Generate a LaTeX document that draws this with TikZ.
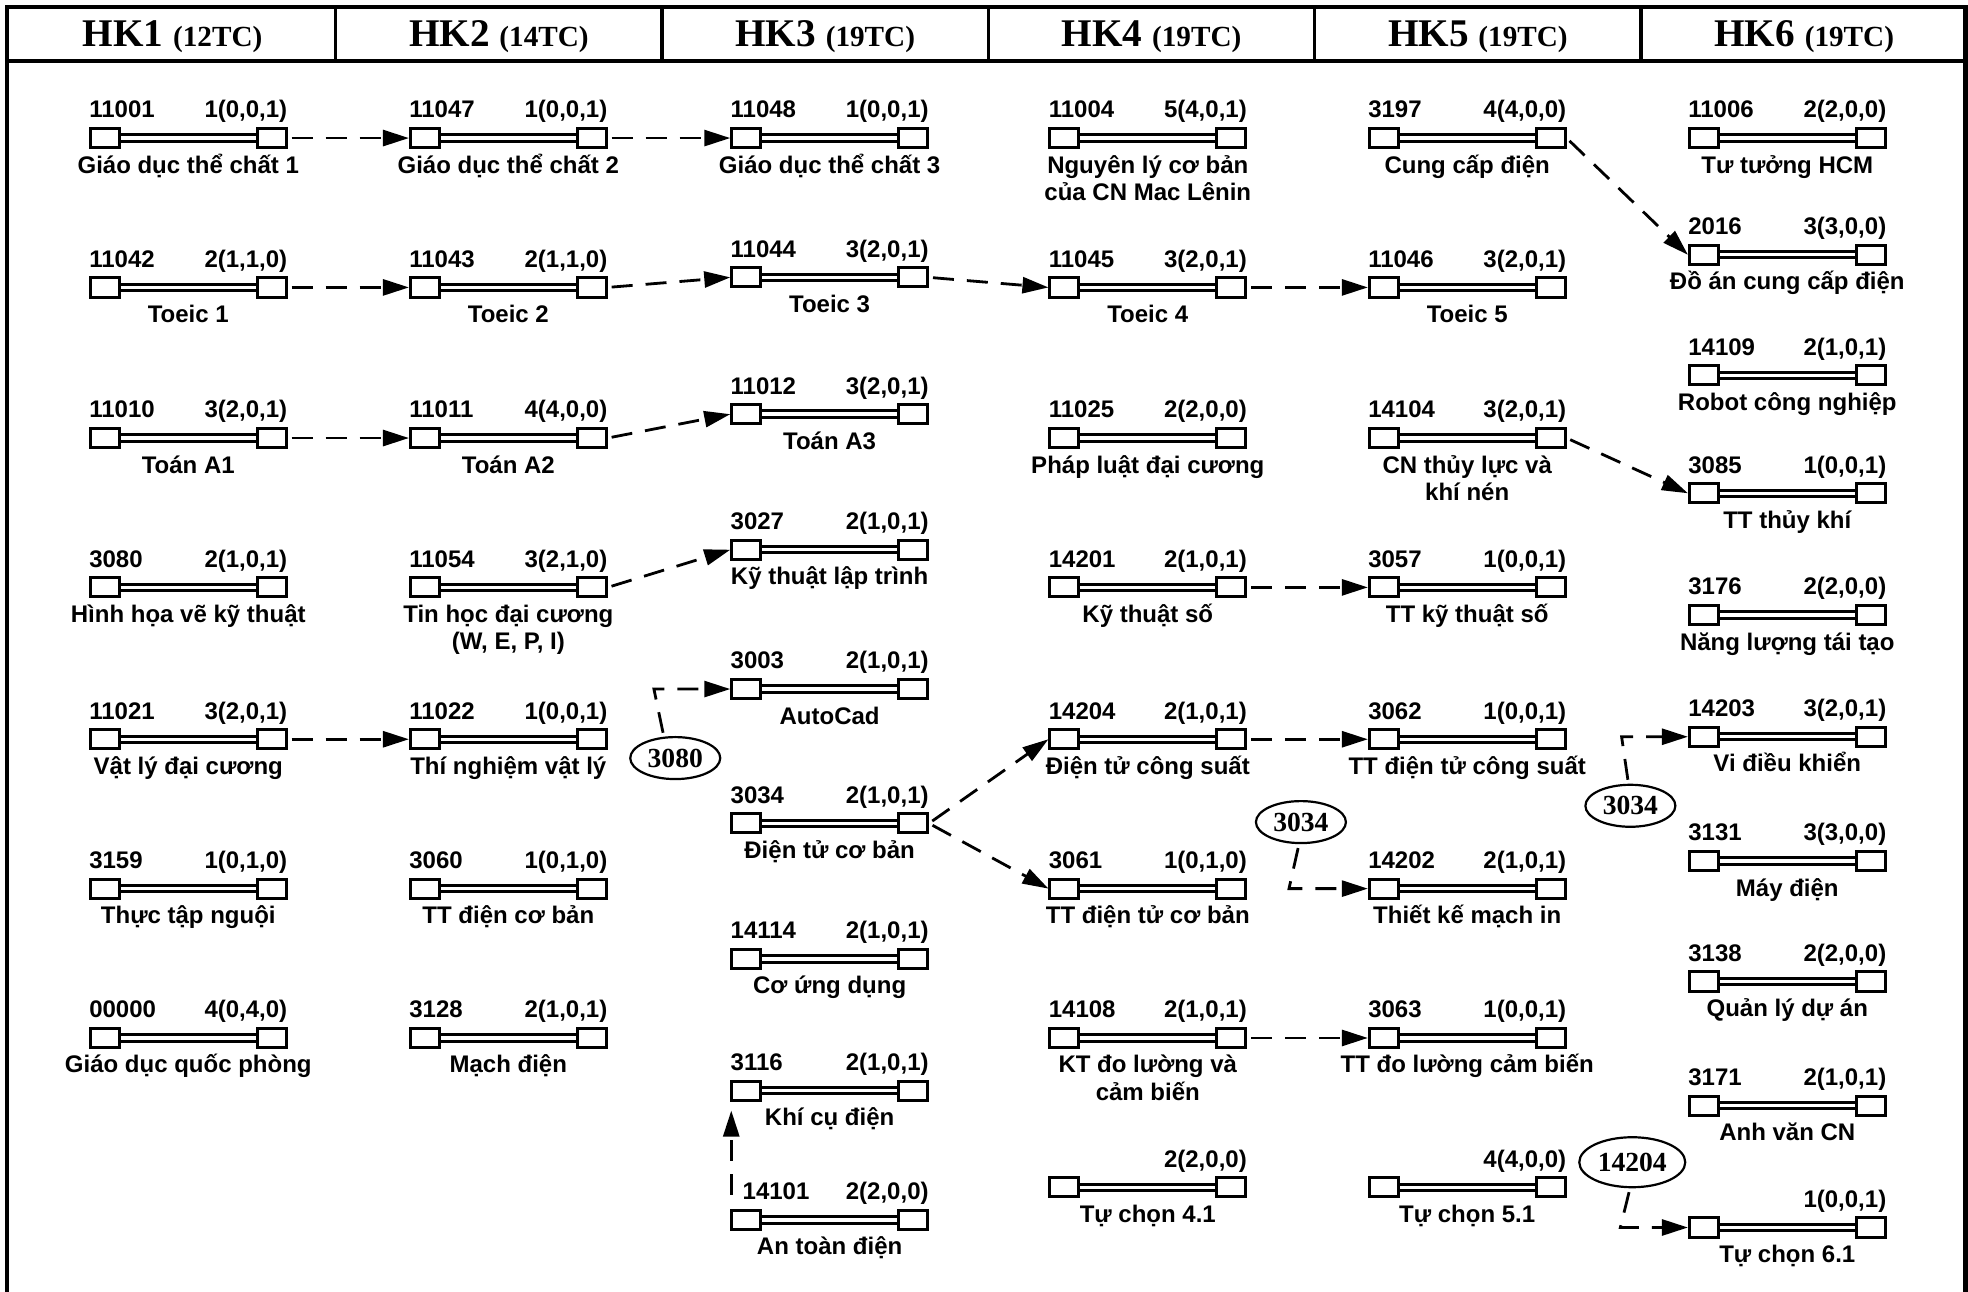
\documentclass[tikz,border=0pt]{standalone}
\usepackage{fontspec}
\setmainfont{Liberation Sans}
\newfontfamily\hkfont{Liberation Serif}
\usetikzlibrary{arrows.meta,shapes.geometric,positioning,calc}

\tikzset{
    mbox/.style={draw, fill=white, line width=1.5pt, inner sep=0pt,
        minimum width=14.4pt, minimum height=9.6pt},
    rail/.style={double, line width=1.5pt, double distance=1.7pt},
    txt/.style={font=\bfseries\fontsize{12}{13.8}\selectfont, inner sep=0pt},
    req/.style={line width=1.4pt, dash pattern=on 10.5pt off 6.5pt,
        -{Triangle[length=13pt,width=8pt]}, shorten <=2pt},
    prev/.style={ellipse, draw, line width=1.1pt, inner sep=0pt,
        minimum width=45pt, minimum height=21pt,
        font=\hkfont\bfseries\fontsize{13.8}{14}\selectfont},
    hk/.style={font=\hkfont\bfseries\fontsize{19.6}{20}\selectfont},
}

\begin{document}
\begin{tikzpicture}[x=0.6276pt, y=-0.6276pt]
    \useasboundingbox (0,0) rectangle (1568,1029);

    \draw[line width=2.2pt] (5.7,1029) -- (5.7,5.8) -- (1566,5.8) -- (1566,1029);
    \draw[line width=1.6pt] (5.7,48.6) -- (1566,48.6);
    \foreach \i in {1,...,5}
    \draw[line width=1.6pt] (7.5+260*\i,5.8) -- (7.5+260*\i,48.6);

    \foreach \i/\tc in {1/12, 2/14, 3/19, 4/19, 5/19, 6/19}
    \node[hk] (hk\i) at (137.5+260*\i-260,29.5) {HK\i\ {\fontsize{14.6}{15}\selectfont(\tc TC)}};

    \foreach \id/\px/\py/\ma/\tc/\ten in {
        a1/150/110/11001/{1(0,0,1)}/{Giáo dục thể chất 1},
        a2/150/229/11042/{2(1,1,0)}/{Toeic 1},
        a3/150/349/11010/{3(2,0,1)}/{Toán A1},
        a4/150/468/3080/{2(1,0,1)}/{Hình họa vẽ kỹ thuật},
        a5/150/589/11021/{3(2,0,1)}/{Vật lý đại cương},
        a6/150/708/3159/{1(0,1,0)}/{Thực tập nguội},
        a7/150/827/00000/{4(0,4,0)}/{Giáo dục quốc phòng},
        b1/405/110/11047/{1(0,0,1)}/{Giáo dục thể chất 2},
        b2/405/229/11043/{2(1,1,0)}/{Toeic 2},
        b3/405/349/11011/{4(4,0,0)}/{Toán A2},
        b4/405/468/11054/{3(2,1,0)}/{Tin học đại cương\\(W, E, P, I)},
        b5/405/589/11022/{1(0,0,1)}/{Thí nghiệm vật lý},
        b6/405/708/3060/{1(0,1,0)}/{TT điện cơ bản},
        b7/405/827/3128/{2(1,0,1)}/{Mạch điện},
        c1/661/110/11048/{1(0,0,1)}/{Giáo dục thể chất 3},
        c2/661/221/11044/{3(2,0,1)}/{Toeic 3},
        c3/661/330/11012/{3(2,0,1)}/{Toán A3},
        c4/661/438/3027/{2(1,0,1)}/{Kỹ thuật lập trình},
        c5/661/549/3003/{2(1,0,1)}/{AutoCad},
        c6/661/656/3034/{2(1,0,1)}/{Điện tử cơ bản},
        c7/661/764/14114/{2(1,0,1)}/{Cơ ứng dụng},
        c8/661/869/3116/{2(1,0,1)}/{Khí cụ điện},
        c9/661/972/{\hspace*{6pt}14101}/{2(2,0,0)}/{An toàn điện},
        d1/914.5/110/11004/{5(4,0,1)}/{Nguyên lý cơ bản\\của CN Mac Lênin},
        d2/914.5/229/11045/{3(2,0,1)}/{Toeic 4},
        d3/914.5/349/11025/{2(2,0,0)}/{Pháp luật đại cương},
        d4/914.5/468/14201/{2(1,0,1)}/{Kỹ thuật số},
        d5/914.5/589/14204/{2(1,0,1)}/{Điện tử công suất},
        d6/914.5/708/3061/{1(0,1,0)}/{TT điện tử cơ bản},
        d7/914.5/827/14108/{2(1,0,1)}/{KT đo lường và\\cảm biến},
        d8/914.5/946//{2(2,0,0)}/{Tự chọn 4.1},
        e1/1169/110/3197/{4(4,0,0)}/{Cung cấp điện},
        e2/1169/229/11046/{3(2,0,1)}/{Toeic 5},
        e3/1169/349/14104/{3(2,0,1)}/{CN thủy lực và\\khí nén},
        e4/1169/468/3057/{1(0,0,1)}/{TT kỹ thuật số},
        e5/1169/589/3062/{1(0,0,1)}/{TT điện tử công suất},
        e6/1169/708/14202/{2(1,0,1)}/{Thiết kế mạch in},
        e7/1169/827/3063/{1(0,0,1)}/{TT đo lường cảm biến},
        e8/1169/946//{4(4,0,0)}/{Tự chọn 5.1},
        f1/1424/110/11006/{2(2,0,0)}/{Tư tưởng HCM},
        f2/1424/203/2016/{3(3,0,0)}/{Đồ án cung cấp điện},
        f3/1424/299/14109/{2(1,0,1)}/{Robot công nghiệp},
        f4/1424/393/3085/{1(0,0,1)}/{TT thủy khí},
        f5/1424/490/3176/{2(2,0,0)}/{Năng lượng tái tạo},
        f6/1424/587/14203/{3(2,0,1)}/{Vi điều khiển},
        f7/1424/686/3131/{3(3,0,0)}/{Máy điện},
        f8/1424/782/3138/{2(2,0,0)}/{Quản lý dự án},
        f9/1424/881/3171/{2(1,0,1)}/{Anh văn CN},
        f10/1424/978//{1(0,0,1)}/{Tự chọn 6.1}}
    {
        \draw[rail] (\px-55,\py) -- (\px+55,\py);
        \node[mbox] (\id-l) at (\px-66.5,\py) {};
        \node[mbox] (\id-r) at (\px+66.5,\py) {};
        \node[txt, anchor=base west] (\id-c) at ([yshift=4.5pt]\id-l.north west) {\ma};
        \node[txt, anchor=base east] (\id-k) at ([yshift=4.5pt]\id-r.north east) {\tc};
        \node[txt, anchor=north, align=center] (\id-t) at ([yshift=-5.3pt]\px,\py) {\rule{0pt}{12pt}\ten};
    }

    \node[prev] (p1) at (538,604) {3080};
    \node[prev] (p2) at (1036.5,655) {3034};
    \node[prev] (p3) at (1299,642) {3034};
    \node[prev, minimum width=53pt, minimum height=25pt] (p4) at (1300.5,926) {14204};

    \coordinate (k1) at (521,549);
    \coordinate (k2) at (1027,708);
    \coordinate (k3) at (1292,587);
    \coordinate (k4) at (1291,978);

    \draw[req] (a1-r.east) -- (b1-l.west);
    \draw[req] (b1-r.east) -- (c1-l.west);
    \draw[req] (a2-r.east) -- (b2-l.west);
    \draw[req] (b2-r.east) -- (c2-l.west);
    \draw[req] (c2-r.east) -- (d2-l.west);
    \draw[req] (d2-r.east) -- (e2-l.west);
    \draw[req] (a3-r.east) -- (b3-l.west);
    \draw[req] (b3-r.east) -- (c3-l.west);
    \draw[req] (b4-r.east) -- (c4-l.west);
    \draw[req] (a5-r.east) -- (b5-l.west);
    \draw[req] (c6-r.east) -- (d5-l.west);
    \draw[req] (c6-r.east) -- (d6-l.west);
    \draw[req] (d4-r.east) -- (e4-l.west);
    \draw[req] (d5-r.east) -- (e5-l.west);
    \draw[req] (d7-r.east) -- (e7-l.west);
    \draw[req] (e1-r.east) -- (f2-l.west);
    \draw[req] (e3-r.east) -- (f4-l.west);
    \draw[req] ([xshift=0.5pt,yshift=5pt]c9-l.north west) -- ([xshift=0.5pt,yshift=-4.4pt]c8-l.south west);

    \draw[req] (p1.118) -- (k1) -- (c5-l.west);
    \draw[req] (p2.265) -- (k2) -- (e6-l.west);
    \draw[req] (p3.95) -- (k3) -- (f6-l.west);
    \draw[req] (p4.265) -- (k4) -- (f10-l.west);
\end{tikzpicture}
\end{document}
